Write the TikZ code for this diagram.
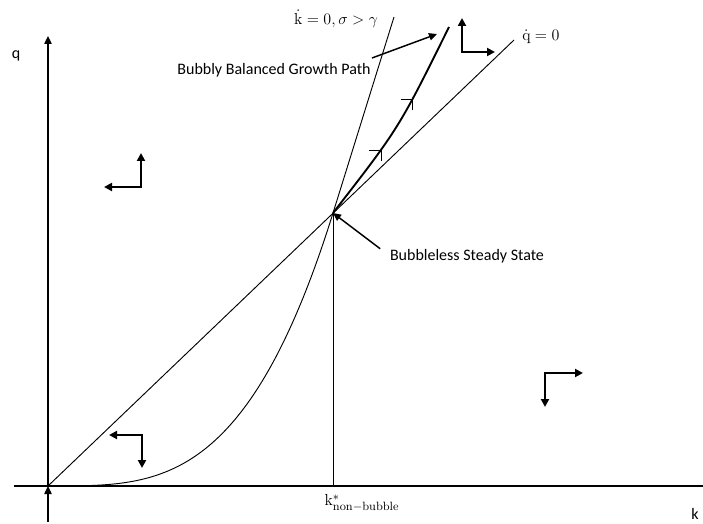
\documentclass[tikz,border=0pt]{standalone}
\usepackage[no-math]{fontspec}
\setmainfont{Carlito}
\usetikzlibrary{arrows.meta}
\tikzset{
  axisline/.style={line width=1pt},
  locus/.style={line width=0.7pt},
  bubblypath/.style={line width=1.4pt},
  phasearrow/.style={line width=1.5pt, {Triangle[length=6pt,width=6pt]}-{Triangle[length=6pt,width=6pt]}},
  labelarrow/.style={line width=1.1pt, -{Triangle[length=6pt,width=5.5pt]}},
  flowbarb/.style={line width=0.6pt},
  mathlabel/.style={font=\fontsize{13}{15}\selectfont}
}

\begin{document}
\begin{tikzpicture}[x=0.75pt,y=-0.75pt, every node/.style={font=\fontsize{12}{14}\selectfont, inner sep=0pt}]
  \useasboundingbox (0,0) rectangle (703,524);
  \coordinate (o) at (48,486);
  \coordinate (ss) at (333,213);
  \coordinate (qtop) at (48,36);
  \coordinate (qbot) at (48,522);
  \coordinate (kleft) at (14,486);
  \coordinate (kright) at (703,486);
  \coordinate (kstarfoot) at (333,486);
  \coordinate (qdotend) at (514,40);
  \coordinate (kdotend) at (394,17);
  \coordinate (bbtop) at (449,27);
  \coordinate (bbtail) at (372,58);
  \coordinate (bbtip) at (437,34);

  \node (qlab) at (16,56) {q};
  \node (klab) at (695,514) {k};
  \node[mathlabel] (kstar) at (362,503) {$\mathrm{k}^{*}_{\mathrm{non-bubble}}$};
  \node[mathlabel] (kdotlab) at (336,19) {$\dot{\mathrm{k}}=0,\sigma>\gamma$};
  \node[mathlabel, anchor=west] (qdotlab) at (522,37) {$\dot{\mathrm{q}}=0$};
  \node (bbgp) at (274,70) {Bubbly Balanced Growth Path};
  \node (bss) at (467,256) {Bubbleless Steady State};

  % axes
  \draw[axisline] (kleft) -- (kright);
  \draw[axisline,-{Triangle[length=6pt,width=5.5pt]}] (o) -- (qtop);
  \draw[axisline,-{Triangle[length=6pt,width=5.5pt]}] (qbot) -- (o);

  % loci
  \draw[locus] (o) -- (qdotend);
  \draw[locus] (o) -- plot[domain=0.01:1,samples=80] ({48+285*\x},{486-273*\x^3.35}) -- (kdotend);
  \draw[locus] (ss) -- (kstarfoot);

  % bubbly path
  \draw[bubblypath] (ss) .. controls (399,128) .. (bbtop) coordinate[pos=0.33] (m1) coordinate[pos=0.68] (m2);
  \foreach \m in {m1,m2} {
    \draw[flowbarb] ([xshift=-9pt]\m) -- (\m) -- ([yshift=-8pt]\m);
  }

  % phase arrows
  \foreach \cx/\cy/\dx/\dy in {141/187/-37/-34, 142/435/-33/33, 545/373/38/34, 462/52/33/-34} {
    \draw[phasearrow] ({\cx+\dx},\cy) -- (\cx,\cy) -- (\cx,{\cy+\dy});
  }

  \draw[labelarrow] (bbtail) -- (bbtip);
  \draw[labelarrow, shorten <=9pt] (bss.west) -- (ss);
\end{tikzpicture}
\end{document}
